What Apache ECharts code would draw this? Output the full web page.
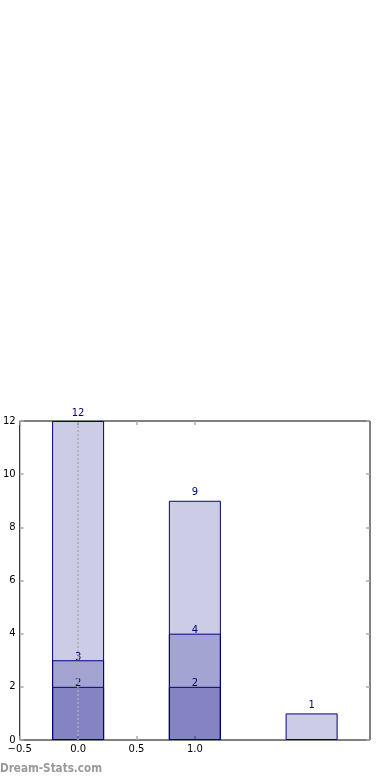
<!DOCTYPE html>
<html>
<head>
<meta charset="utf-8">
<script src="https://cdn.jsdelivr.net/npm/echarts@6/dist/echarts.min.js"></script>
<style>html,body{margin:0;padding:0;background:#fff;}#c{width:390px;height:780px;}</style>
</head>
<body>
<div id="c"></div>
<script>
var xPositions = [0, 1, 2];
var seriesA = [12, 9, 1];
var seriesB = [3, 4];
var seriesC = [2, 2];
var xTickLabels = [-0.5, 0.0, 0.5, 1.0];
var yTicks = [0, 2, 4, 6, 8, 10, 12];

function pairs(vals) { return vals.map(function (v, i) { return [xPositions[i], v]; }); }

var navy = '#000080';
var fill = 'rgba(0,0,128,0.2)';
var font = 'DejaVu Sans';

function barSeries(name, vals, dist, withLine) {
  var s = {
    name: name, type: 'bar', data: pairs(vals),
    barWidth: 52, barGap: '-100%',
    itemStyle: { color: fill, borderColor: navy, borderWidth: 1 },
    label: { show: true, position: 'top', distance: dist, color: navy, fontFamily: font, fontSize: 10 },
    emphasis: { disabled: true },
    silent: true, animation: false
  };
  if (withLine) {
    s.markLine = {
      silent: true, symbol: ['none', 'none'], label: { show: false },
      lineStyle: { color: '#aaaaaa', type: [2, 2], width: 1.5 },
      data: [{ xAxis: 0 }], animation: false
    };
  }
  return s;
}

var tickStyle = { color: '#aaaaaa', width: 1.5 };
var chart = echarts.init(document.getElementById('c'), null, { renderer: 'canvas' });
chart.setOption({
  animation: false,
  grid: { left: 18, right: 20, top: 421, bottom: 40, show: true, borderColor: '#000', borderWidth: 1, backgroundColor: 'transparent' },
  xAxis: [{
    type: 'value', min: -0.5, max: 2.5, interval: 0.5,
    axisLine: { show: false, onZero: false }, splitLine: { show: false },
    axisTick: { show: true, inside: true, length: 4, lineStyle: tickStyle, customValues: xTickLabels },
    axisLabel: { show: true, customValues: xTickLabels, margin: 4, color: '#000', fontFamily: font, fontSize: 10,
      formatter: function (v) { return (v < 0 ? '\u2212' : '') + Math.abs(v).toFixed(1); } }
  }, {
    type: 'value', position: 'top', min: -0.5, max: 2.5, interval: 0.5,
    axisLine: { show: false, onZero: false }, splitLine: { show: false },
    axisTick: { show: true, inside: true, length: 4, lineStyle: tickStyle, customValues: xTickLabels },
    axisLabel: { show: false }
  }],
  yAxis: [{
    type: 'value', position: 'left', min: 0, max: 12, interval: 2,
    axisLine: { show: false, onZero: false }, splitLine: { show: false },
    axisTick: { show: true, inside: true, length: 4, lineStyle: tickStyle, customValues: yTicks },
    axisLabel: { show: true, customValues: yTicks, margin: 4, color: '#000', fontFamily: font, fontSize: 10 }
  }, {
    type: 'value', position: 'right', min: 0, max: 12, interval: 2,
    axisLine: { show: false, onZero: false }, splitLine: { show: false },
    axisTick: { show: true, inside: true, length: 4, lineStyle: tickStyle, customValues: yTicks },
    axisLabel: { show: false }
  }],
  graphic: [{
    type: 'text', left: 0, top: 763,
    style: { text: 'Dream-Stats.com', fill: '#999999', font: 'bold 11.6px "DejaVu Sans Condensed", "DejaVu Sans"' }
  }],
  series: [
    barSeries('a', seriesA, 3, true),
    barSeries('b', seriesB, -2, false),
    barSeries('c', seriesC, -2, false)
  ]
});
</script>
</body>
</html>
